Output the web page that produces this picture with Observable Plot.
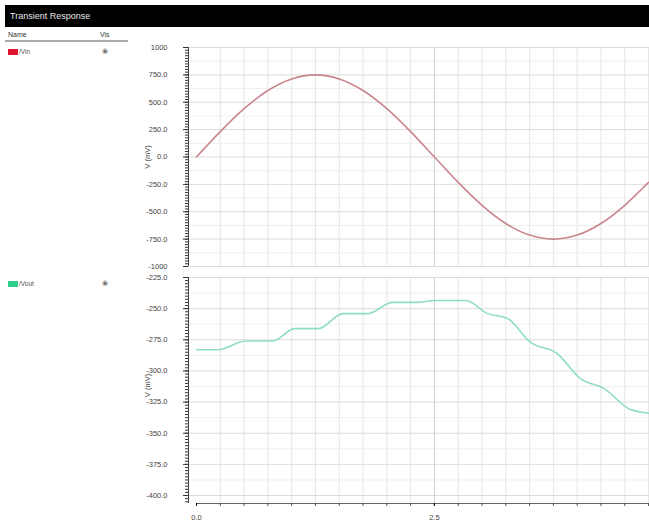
<!DOCTYPE html>
<html>
<head>
<meta charset="utf-8">
<script src="https://cdn.jsdelivr.net/npm/d3@7"></script>
<script src="https://cdn.jsdelivr.net/npm/@observablehq/plot@0.6"></script>
<style>
  html, body { margin: 0; padding: 0; background: #fff; }
  #wrap { position: relative; width: 649px; height: 523px; overflow: hidden; font-family: "Liberation Sans", Arial, sans-serif; }
  .abs { position: absolute; }
  #titlebar { left: 5px; top: 5px; width: 644px; height: 22px; background: #000; color: #e8e8e8; font-size: 9px; line-height: 22px; padding-left: 5px; box-sizing: border-box; }
  .hdr { font-size: 7px; color: #333; }
  #sep { left: 5px; top: 40px; width: 123px; height: 2px; background: #aaa; }
  .sw { width: 10px; height: 6px; }
  .lg { font-size: 6.5px; color: #555; }
  .vis { font-size: 7px; color: #777; }
  svg { overflow: visible; }
</style>
</head>
<body>
<div id="wrap">
  <div id="titlebar" class="abs">Transient Response</div>
  <div class="abs hdr" style="left:8px;top:31px;">Name</div>
  <div class="abs hdr" style="left:100px;top:31px;">Vis</div>
  <div id="sep" class="abs"></div>
  <div class="abs sw" style="left:8px;top:49px;background:#e0142c;"></div>
  <div class="abs lg" style="left:19px;top:48px;">/Vin</div>
  <div class="abs vis" style="left:102px;top:47px;">◉</div>
  <div class="abs sw" style="left:8px;top:281px;background:#2fcf8e;"></div>
  <div class="abs lg" style="left:19px;top:280px;">/Vout</div>
  <div class="abs vis" style="left:102px;top:279px;">◉</div>
  <div id="top" class="abs" style="left:0;top:40px;"></div>
  <div id="bot" class="abs" style="left:0;top:270px;"></div>
</div>
<script>
// ---- data ----
const vinT = [0, 0.25, 0.5, 0.75, 1.0, 1.25, 1.5, 1.75, 2.0, 2.25, 2.5, 2.75, 3.0, 3.25, 3.5, 3.75, 4.0, 4.25, 4.5, 4.75];
const vinV = [0, 232, 441, 607, 713, 750, 713, 607, 441, 232, 0, -232, -441, -607, -713, -750, -713, -607, -441, -232];
const voutT = [0, 0.22, 0.52, 0.8, 1.03, 1.28, 1.54, 1.8, 2.06, 2.32, 2.49, 2.83, 3.06, 3.27, 3.51, 3.79, 4.03, 4.28, 4.56, 4.76];
const voutV = [-283, -283, -276, -276, -266, -266, -254, -254, -245, -245, -243.5, -243.5, -254, -258, -277, -286, -306, -314, -331, -334];
const topTicks = [1000, 750, 500, 250, 0, -250, -500, -750, -1000];
const topTickLabels = ["1000", "750.0", "500.0", "250.0", "0.0", "-250.0", "-500.0", "-750.0", "-1000"];
const botTicks = [-225, -250, -275, -300, -325, -350, -375, -400];
const botTickLabels = ["-225.0", "-250.0", "-275.0", "-300.0", "-325.0", "-350.0", "-375.0", "-400.0"];
const xLabelTicks = [0, 2.5];
const xLabels = ["0.0", "2.5"];
const xDomain = [-0.084, 4.76];
const topDomain = [-1000, 1000];
const botDomain = [-406.4, -225];
const yLabel = "V (mV)";

const vin = vinT.map((t, i) => ({t, v: vinV[i]}));
const vout = voutT.map((t, i) => ({t, v: voutV[i]}));
const xGrid = d3.range(0, 4.76, 0.25);

function panel(data, color, domain, majors, labels, minorStep, opts) {
  const minors = d3.range(domain[1], domain[0], -minorStep);
  const halfs = majors.slice(0, -1).map((m, i) => (m + majors[i + 1]) / 2);
  const fmt = new Map(majors.map((m, i) => [m, labels[i]]));
  const marks = [
    Plot.gridY(halfs, {stroke: "#efefef", strokeOpacity: 1}),
    Plot.gridX(xGrid.filter(x => Math.abs(x % 2.5) > 1e-9), {stroke: "#e6e6e6", strokeOpacity: 1}),
    Plot.gridX(xGrid.filter(x => Math.abs(x % 2.5) < 1e-9 && x > 0), {stroke: "#d2d2d2", strokeOpacity: 1}),
    Plot.gridY(majors, {stroke: "#dcdcdc", strokeOpacity: 1}),
    Plot.axisY(minors, {tickSize: 3, text: null, stroke: "#333", label: null}),
    Plot.axisY(majors, {tickSize: 5, tickPadding: 16, tickFormat: d => fmt.get(d), fontSize: 7.5, fill: "#444", stroke: "#333", label: null}),
    Plot.ruleX([xDomain[0]], {stroke: "#444", strokeWidth: 1}),
    Plot.text([yLabel], {frameAnchor: "left", dx: -41, dy: opts.labelDy, rotate: -90, textAnchor: "middle", text: d => d, fontSize: 7.5, fill: "#444"}),
    Plot.line(data, {x: "t", y: "v", stroke: color, strokeWidth: 1.6, curve: "monotone-x", clip: true})
  ];
  if (opts.xaxis) {
    marks.push(
      Plot.ruleY([domain[0]], {x1: 0, x2: xDomain[1], stroke: "#666", strokeWidth: 1.2}),
      Plot.axisX(xGrid, {tickSize: 3, text: null, stroke: "#555", label: null}),
      Plot.axisX(xLabelTicks, {tickSize: 3, tickPadding: 8, tickFormat: d => xLabels[xLabelTicks.indexOf(d)], fontSize: 7.5, fill: "#444", label: null})
    );
  }
  return Plot.plot({
    width: 649,
    height: opts.height,
    marginLeft: 188,
    marginRight: 0,
    marginTop: 7,
    marginBottom: opts.marginBottom,
    style: {fontFamily: "Liberation Sans, Arial, sans-serif", background: "transparent"},
    x: {domain: xDomain, axis: null},
    y: {domain: domain, axis: null},
    marks
  });
}

document.getElementById("top").append(panel(vin, "#c9858c", topDomain, topTicks, topTickLabels, 25, {height: 230, marginBottom: 4, xaxis: false, labelDy: 0}));
document.getElementById("bot").append(panel(vout, "#8fdcc9", botDomain, botTicks, botTickLabels, 2.5, {height: 253, marginBottom: 20, xaxis: true, labelDy: -5}));
</script>
</body>
</html>
